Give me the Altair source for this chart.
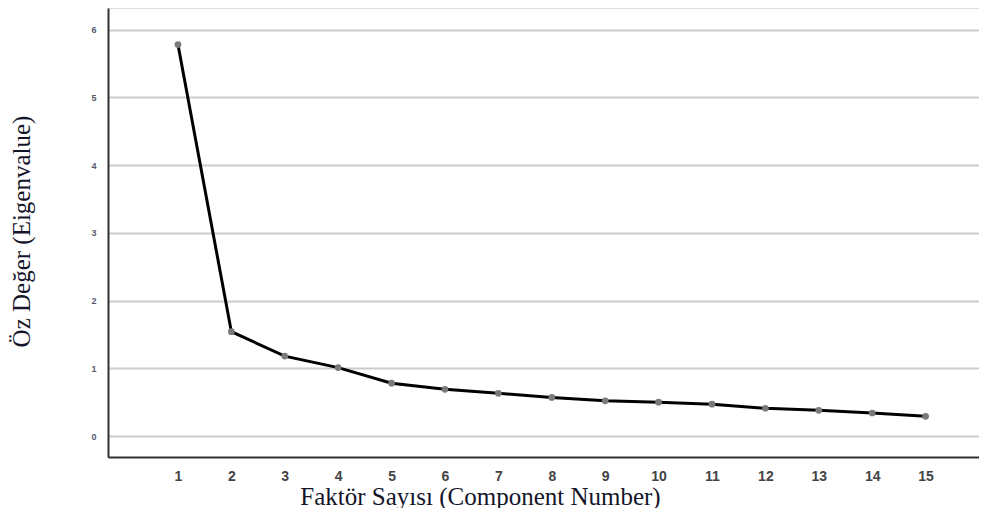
import altair as alt
import pandas as pd

components = list(range(1, 16))
eigenvalues = [5.78, 1.54, 1.18, 1.01, 0.78, 0.69, 0.63, 0.57, 0.52, 0.50, 0.47, 0.41, 0.38, 0.34, 0.29]
y_ticks = [0, 1, 2, 3, 4, 5, 6]

df = pd.DataFrame({"component": components, "eigen": eigenvalues})

x = alt.X(
    "component:Q",
    scale=alt.Scale(domain=[-0.31, 16.0], nice=False, zero=False),
    axis=alt.Axis(
        values=components, grid=False, ticks=False,
        domainColor="#333333", domainWidth=2,
        labelFont="Liberation Sans", labelFontSize=14, labelColor="#444444",
        labelFontWeight="bold", labelPadding=12,
        title="Faktör Sayısı (Component Number)",
        titleFont="Liberation Serif", titleFontSize=25, titleFontWeight="normal",
        titleColor="#15152a", titleX=372, titleY=39, titleAlign="center",
        titleBaseline="middle",
    ),
)
y = alt.Y(
    "eigen:Q",
    scale=alt.Scale(domain=[-0.31, 6.32], nice=False, zero=False),
    axis=alt.Axis(
        values=y_ticks, grid=True, gridColor="#cccccc", gridWidth=2,
        ticks=False, domainColor="#333333", domainWidth=2,
        labelFont="Liberation Sans", labelFontSize=9, labelColor="#56566a",
        labelFontWeight="bold", labelPadding=12,
        title="Öz Değer (Eigenvalue)",
        titleFont="Liberation Serif", titleFontSize=25, titleFontWeight="normal",
        titleColor="#15152a", titleX=-87, titleY=223, titleAngle=-90,
        titleAlign="center", titleBaseline="middle",
    ),
)

line = alt.Chart(df).mark_line(color="#000000", strokeWidth=3).encode(x=x, y=y)
points = alt.Chart(df).mark_point(filled=True, color="#7a7a7a", size=45, opacity=1).encode(x=x, y=y)

chart = (
    alt.layer(line, points)
    .properties(
        width=871, height=449,
        autosize=alt.AutoSizeParams(type="none"),
        padding={"left": 100, "top": 0, "right": 0, "bottom": 51},
    )
    .configure_view(stroke=None)
    .configure(background="white")
)

chart.save("out.html", embed_options={"renderer": "svg", "actions": False})
